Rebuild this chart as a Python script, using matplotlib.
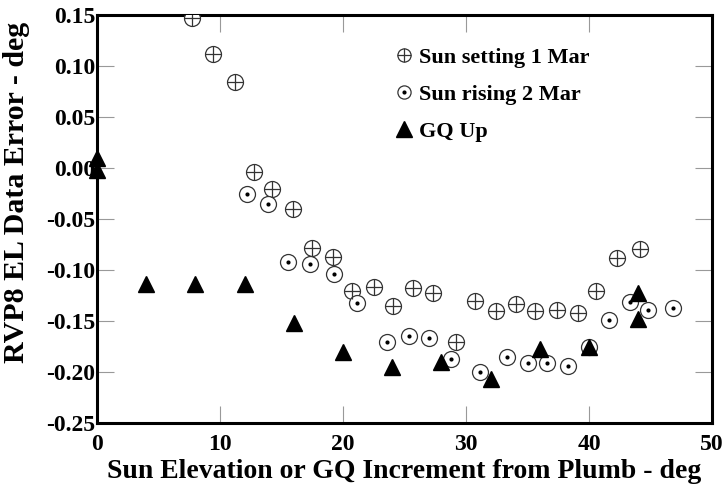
import matplotlib
matplotlib.use("Agg")
import matplotlib.pyplot as plt
from matplotlib.legend_handler import HandlerTuple
from matplotlib.lines import Line2D

plt.rcParams['font.family'] = ['Liberation Serif', 'DejaVu Serif']
plt.rcParams['font.weight'] = 'bold'

# Sun setting 1 Mar
set_x = [7.75, 9.45, 11.2, 12.8, 14.25, 15.9, 17.5, 19.2, 20.7, 22.5, 24.1, 25.7,
         27.3, 29.2, 30.7, 32.4, 34.1, 35.6, 37.4, 39.1, 40.6, 42.3, 44.1]
set_y = [0.147, 0.112, 0.084, -0.004, -0.021, -0.040, -0.078, -0.087, -0.121, -0.117,
         -0.135, -0.118, -0.123, -0.171, -0.130, -0.140, -0.133, -0.140, -0.139,
         -0.142, -0.121, -0.088, -0.079]

# Sun rising 2 Mar
rise_x = [12.2, 13.9, 15.55, 17.3, 19.3, 21.1, 23.55, 25.4, 27.0, 28.8, 31.15, 33.3,
          35.0, 36.6, 38.3, 40.0, 41.65, 43.3, 44.8, 46.8]
rise_y = [-0.025, -0.035, -0.092, -0.094, -0.104, -0.132, -0.171, -0.165, -0.167,
          -0.187, -0.200, -0.185, -0.191, -0.191, -0.194, -0.175, -0.149, -0.131,
          -0.139, -0.137]

# GQ Up
gq_x = [0, 0, 4, 8, 12, 16, 20, 24, 28, 32, 36, 40, 44, 44]
gq_y = [0.010, -0.002, -0.114, -0.114, -0.114, -0.152, -0.180, -0.195, -0.190,
        -0.207, -0.177, -0.175, -0.123, -0.148]

x_ticks = [0, 10, 20, 30, 40, 50]
y_ticks = [0.15, 0.10, 0.05, 0.00, -0.05, -0.10, -0.15, -0.20, -0.25]
y_labels = ['0.15', '0.10', '0.05', '0.00', '-0.05', '-0.10', '-0.15', '-0.20', '-0.25']

fig = plt.figure(figsize=(7.23, 4.88), dpi=100)
ax = fig.add_axes([0.134, 0.1332, 0.851, 0.836])

ms = 11.5
ec = '#333333'
lw = 0.9

ax.plot(set_x, set_y, ls='none', marker='o', ms=ms, mfc='white', mec=ec, mew=lw, zorder=3)
ax.plot(set_x, set_y, ls='none', marker='+', ms=ms, mec=ec, mew=lw, zorder=4)
ax.plot(rise_x, rise_y, ls='none', marker='o', ms=ms, mfc='white', mec=ec, mew=lw, zorder=3)
ax.plot(rise_x, rise_y, ls='none', marker='o', ms=3, mfc='black', mec='black', mew=0, zorder=4)
ax.plot(gq_x, gq_y, ls='none', marker='^', ms=12, mfc='black', mec='black', zorder=5,
        clip_on=False)

ax.set_xlim(0, 50)
ax.set_ylim(-0.25, 0.15)
ax.set_xticks(x_ticks)
ax.set_yticks(y_ticks)
ax.set_yticklabels(y_labels)

ax.tick_params(direction='in', length=12, width=0.8, color='#999999',
               top=True, right=True, labelsize=17, pad=1)
ax.tick_params(axis='x', pad=8)
for s in ax.spines.values():
    s.set_linewidth(2.2)
    s.set_color('black')

ax.set_xlabel('Sun Elevation or GQ Increment from Plumb - deg', fontsize=20,
              fontweight='bold', labelpad=3)
ax.set_ylabel('RVP8 EL Data Error - deg', fontsize=21.5, fontweight='bold')
ax.yaxis.set_label_coords(-0.109, 0.566)

lms = 9.5
h_set = (Line2D([], [], ls='none', marker='o', ms=lms, mfc='white', mec=ec, mew=lw),
         Line2D([], [], ls='none', marker='+', ms=lms, mec=ec, mew=lw))
h_rise = (Line2D([], [], ls='none', marker='o', ms=lms, mfc='white', mec=ec, mew=lw),
          Line2D([], [], ls='none', marker='o', ms=3, mfc='black', mec='black', mew=0))
h_gq = Line2D([], [], ls='none', marker='^', ms=11, mfc='black', mec='black')

ax.legend([h_set, h_rise, h_gq], ['Sun setting 1 Mar', 'Sun rising 2 Mar', 'GQ Up'],
          handler_map={tuple: HandlerTuple(ndivide=1, pad=0)},
          loc='upper left', bbox_to_anchor=(0.449, 0.97), frameon=False,
          fontsize=16, handlelength=1.0, handletextpad=0.15, labelspacing=0.75)

fig.savefig('out.png', dpi=100)
